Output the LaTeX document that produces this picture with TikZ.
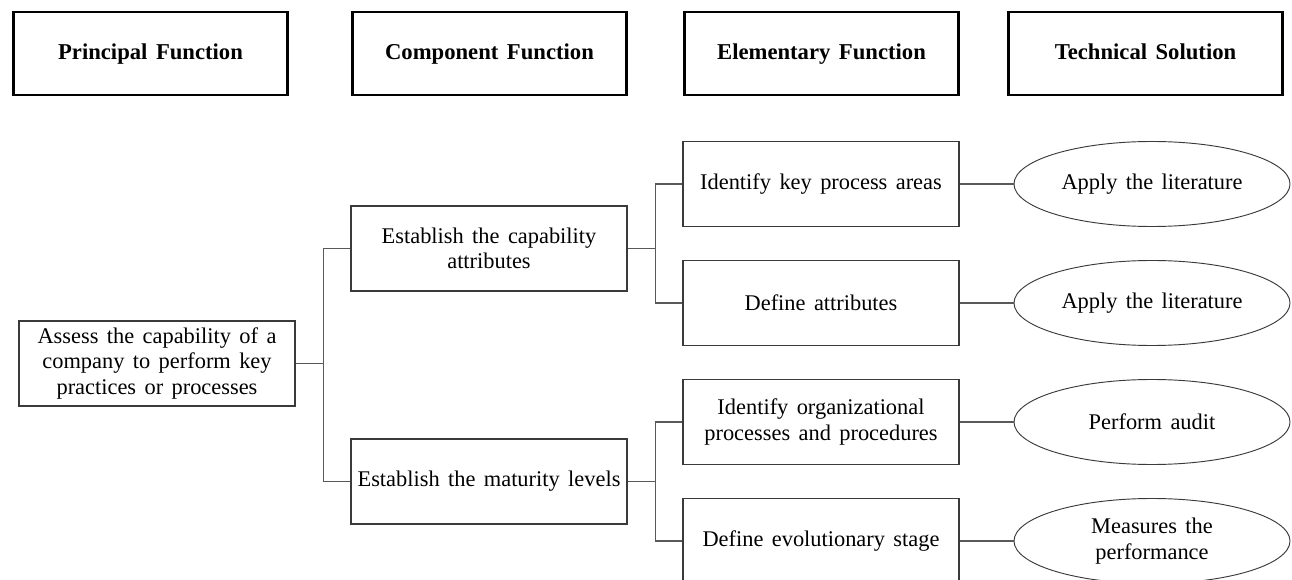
\documentclass[tikz,border=0pt]{standalone}
\usepackage{fontspec}
\setmainfont{Liberation Serif}[WordSpace=1.5]
\usetikzlibrary{shapes.geometric}

\definecolor{edgegray}{HTML}{3A3A3A}
\definecolor{linkgray}{HTML}{595959}

% sizes below are in pt (1 px of the layout grid = 0.75pt)
\tikzset{
  header/.style={draw=black, line width=1.9pt, minimum width=205.5pt, minimum height=62.25pt,
    inner sep=0pt, text height=1.1em, text depth=0.22em,
    font=\fontsize{17}{19}\selectfont\bfseries},
  fbox/.style={draw=edgegray, line width=0.8pt, minimum width=207pt, minimum height=63.75pt,
    inner sep=0pt, align=center, font=\fontsize{16.8}{19.2}\selectfont},
  sol/.style={ellipse, draw=edgegray, line width=0.7pt, minimum width=207pt, minimum height=63.75pt,
    inner sep=0pt, align=center, font=\fontsize{16.8}{19.2}\selectfont},
  link/.style={draw=linkgray, line width=0.8pt}
}

\begin{document}
\begin{tikzpicture}[x=0.75pt, y=-0.75pt]
\useasboundingbox (0,0) rectangle (1292,580);
\clip (0,0) rectangle (1292,580);

% column headings
\node[header] (hp) at (150.5,53.5) {Principal Function};
\node[header] (hc) at (489.5,53.5) {Component Function};
\node[header] (he) at (821.5,53.5) {Elementary Function};
\node[header] (ht) at (1145.5,53.5) {Technical Solution};

% principal function
\node[fbox] (root) at (157,363.5) {Assess the capability of a\\company to perform key\\practices or processes};

% component functions
\node[fbox] (c1) at (489,248.5) {Establish the capability\\attributes};
\node[fbox] (c2) at (489,481.5) {Establish the maturity levels};

% elementary functions
\node[fbox] (e1) at (821,184) {Identify key process areas};
\node[fbox] (e2) at (821,303) {Define attributes};
\node[fbox] (e3) at (821,422) {Identify organizational\\processes and procedures};
\node[fbox] (e4) at (821,541) {Define evolutionary stage};

% technical solutions
\node[sol] (s1) at (1152,184) {Apply the literature};
\node[sol] (s2) at (1152,303) {Apply the literature};
\node[sol] (s3) at (1152,422) {Perform audit};
\node[sol] (s4) at (1152,541) {Measures the\\performance};

% tree connectors
\draw[link] (root.east) -- ++(27.5,0) coordinate (j0);
\draw[link] (j0) |- (c1.west);
\draw[link] (j0) |- (c2.west);

\draw[link] (c1.east) -- ++(28,0) coordinate (j1);
\draw[link] (j1) |- (e1.west);
\draw[link] (j1) |- (e2.west);

\draw[link] (c2.east) -- ++(28,0) coordinate (j2);
\draw[link] (j2) |- (e3.west);
\draw[link] (j2) |- (e4.west);

\draw[link] (e1.east) -- (s1.west);
\draw[link] (e2.east) -- (s2.west);
\draw[link] (e3.east) -- (s3.west);
\draw[link] (e4.east) -- (s4.west);
\end{tikzpicture}
\end{document}
